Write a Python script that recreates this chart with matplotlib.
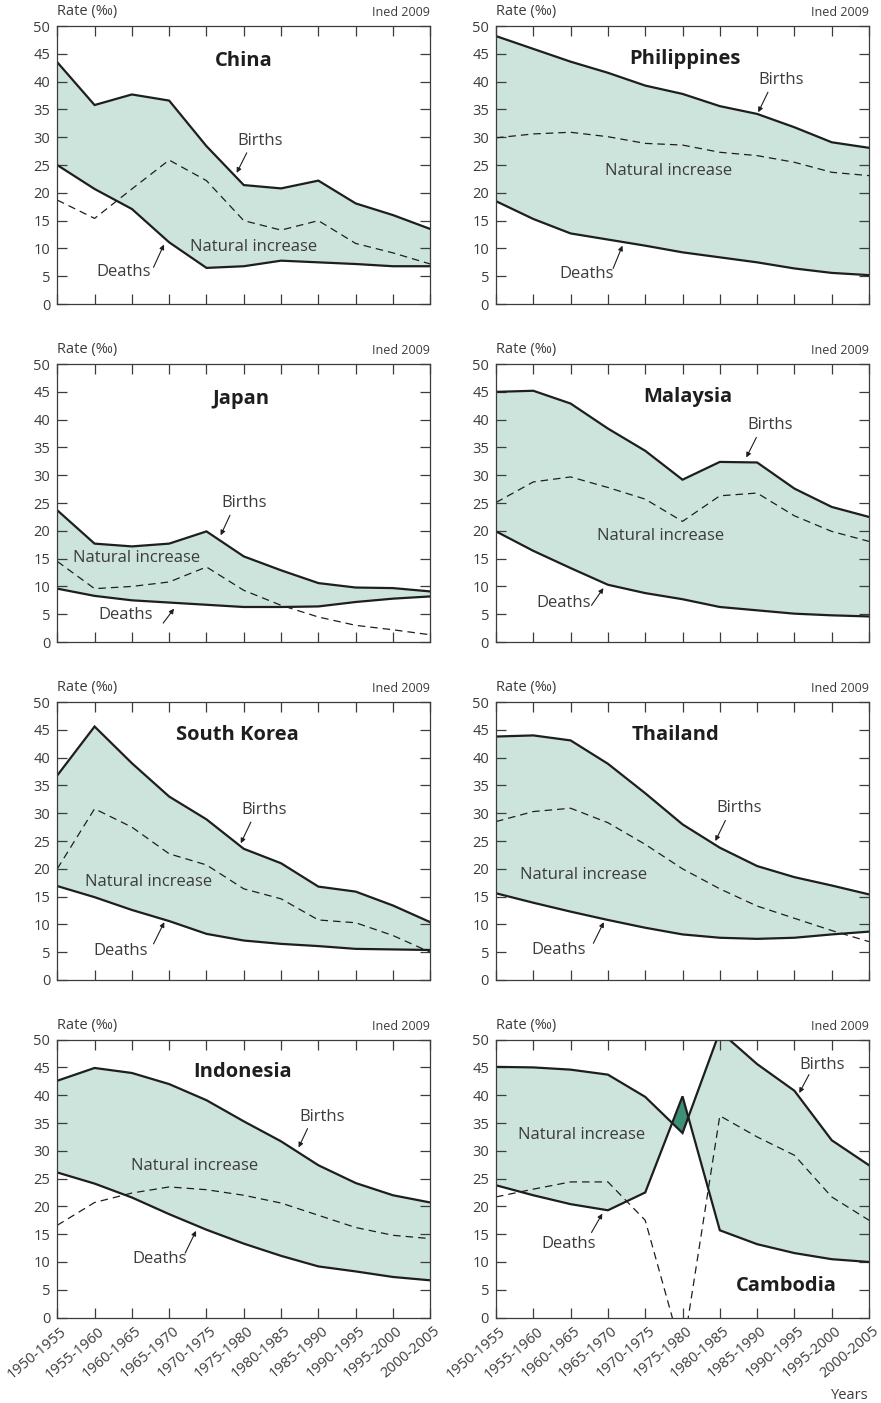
import matplotlib.pyplot as plt
import matplotlib.transforms as mtransforms
import numpy as np

plt.rcParams['font.family'] = ['Open Sans', 'DejaVu Sans']

periods = ['1950-1955', '1955-1960', '1960-1965', '1965-1970', '1970-1975',
           '1975-1980', '1980-1985', '1985-1990', '1990-1995', '1995-2000',
           '2000-2005']

# crude rates per 1000 inhabitants
china_births = [43.5, 35.8, 37.7, 36.6, 28.4, 21.4, 20.8, 22.2, 18.1, 16.0, 13.5]
china_deaths = [25.0, 20.7, 17.1, 11.1, 6.5, 6.8, 7.8, 7.5, 7.2, 6.8, 6.8]
china_natural = [18.7, 15.4, 20.7, 25.9, 22.2, 15.0, 13.3, 15.0, 10.9, 9.2, 7.2]

philippines_births = [48.2, 45.9, 43.6, 41.6, 39.3, 37.8, 35.6, 34.2, 31.8, 29.1, 28.1]
philippines_deaths = [18.5, 15.3, 12.7, 11.6, 10.5, 9.3, 8.4, 7.5, 6.4, 5.6, 5.2]
philippines_natural = [29.9, 30.6, 30.9, 30.1, 28.9, 28.6, 27.3, 26.7, 25.5, 23.7, 23.1]

japan_births = [23.7, 17.7, 17.2, 17.7, 19.9, 15.4, 12.9, 10.6, 9.8, 9.7, 9.1]
japan_deaths = [9.6, 8.3, 7.5, 7.1, 6.7, 6.3, 6.3, 6.4, 7.2, 7.8, 8.2]
japan_natural = [14.5, 9.6, 10.0, 10.8, 13.5, 9.3, 6.6, 4.5, 3.0, 2.2, 1.3]

malaysia_births = [45.0, 45.2, 42.9, 38.4, 34.4, 29.2, 32.4, 32.3, 27.6, 24.3, 22.5]
malaysia_deaths = [19.9, 16.4, 13.3, 10.3, 8.8, 7.7, 6.3, 5.7, 5.1, 4.8, 4.6]
malaysia_natural = [25.1, 28.8, 29.7, 27.8, 25.7, 21.7, 26.3, 26.8, 22.7, 19.9, 18.1]

korea_births = [36.8, 45.6, 39.0, 33.0, 28.9, 23.6, 21.0, 16.8, 15.9, 13.4, 10.4]
korea_deaths = [16.9, 14.9, 12.6, 10.6, 8.3, 7.1, 6.5, 6.1, 5.6, 5.5, 5.4]
korea_natural = [20.0, 30.8, 27.5, 22.7, 20.7, 16.4, 14.6, 10.8, 10.3, 8.0, 5.0]

thailand_births = [43.8, 44.0, 43.1, 38.9, 33.6, 28.0, 23.8, 20.5, 18.5, 17.0, 15.4]
thailand_deaths = [15.6, 13.9, 12.3, 10.8, 9.4, 8.2, 7.6, 7.4, 7.6, 8.2, 8.7]
thailand_natural = [28.5, 30.3, 30.9, 28.3, 24.4, 20.0, 16.4, 13.3, 11.1, 8.9, 6.9]

indonesia_births = [42.6, 44.9, 44.0, 42.0, 39.1, 35.3, 31.7, 27.4, 24.2, 22.0, 20.7]
indonesia_deaths = [26.1, 24.1, 21.6, 18.6, 15.8, 13.3, 11.1, 9.2, 8.3, 7.3, 6.7]
indonesia_natural = [16.6, 20.7, 22.4, 23.5, 23.0, 22.0, 20.6, 18.4, 16.2, 14.8, 14.2]

cambodia_births = [45.1, 45.0, 44.6, 43.7, 39.7, 33.2, 51.5, 45.6, 40.8, 31.9, 27.4]
cambodia_deaths = [23.8, 22.0, 20.4, 19.3, 22.5, 39.8, 15.7, 13.2, 11.6, 10.5, 10.0]
cambodia_natural = [21.7, 23.1, 24.4, 24.4, 17.5, -6.6, 36.3, 32.5, 29.2, 21.7, 17.5]

FILL = '#cde4dd'
DEFICIT = '#3d8f77'
INK = '#1e1e1e'
GREY = '#3c3c3c'

# label placement per panel: title, births (text, arrow tail, arrow head),
# deaths (text, arrow tail, arrow head), natural increase text
panels = [
    dict(name='China', data=(china_births, china_deaths, china_natural),
         title=(5.0, 43.8),
         births=((5.44, 29.3), (5.08, 27.2), (4.81, 23.6)),
         deaths=((1.79, 5.7), (2.58, 6.6), (2.86, 10.7)),
         natural=(5.26, 10.2)),
    dict(name='Philippines', data=(philippines_births, philippines_deaths, philippines_natural),
         title=(5.06, 44.0),
         births=((7.65, 40.3), (7.29, 38.1), (7.03, 34.5)),
         deaths=((2.43, 5.4), (3.14, 6.4), (3.39, 10.5)),
         natural=(4.63, 24.0)),
    dict(name='Japan', data=(japan_births, japan_deaths, japan_natural),
         title=(4.92, 43.8),
         births=((5.02, 25.0), (4.63, 22.8), (4.38, 19.2)),
         deaths=((1.82, 4.9), (2.84, 3.4), (3.13, 6.0)),
         natural=(2.13, 15.1)),
    dict(name='Malaysia', data=(malaysia_births, malaysia_deaths, malaysia_natural),
         title=(5.15, 44.0),
         births=((7.34, 39.0), (6.98, 36.8), (6.71, 33.2)),
         deaths=((1.80, 7.0), (2.56, 6.6), (2.88, 9.7)),
         natural=(4.41, 19.0)),
    dict(name='South Korea', data=(korea_births, korea_deaths, korea_natural),
         title=(4.83, 44.1),
         births=((5.55, 30.6), (5.19, 28.4), (4.92, 24.6)),
         deaths=((1.70, 5.3), (2.58, 6.5), (2.87, 10.4)),
         natural=(2.46, 17.6)),
    dict(name='Thailand', data=(thailand_births, thailand_deaths, thailand_natural),
         title=(4.81, 44.1),
         births=((6.51, 30.9), (6.15, 28.7), (5.88, 25.0)),
         deaths=((1.69, 5.4), (2.61, 6.6), (2.89, 10.4)),
         natural=(2.36, 18.9)),
    dict(name='Indonesia', data=(indonesia_births, indonesia_deaths, indonesia_natural),
         title=(4.96, 44.1),
         births=((7.09, 36.1), (6.71, 34.0), (6.47, 30.6)),
         deaths=((2.74, 10.6), (3.43, 11.6), (3.72, 15.6)),
         natural=(3.68, 27.3)),
    dict(name='Cambodia', data=(cambodia_births, cambodia_deaths, cambodia_natural),
         title=(7.79, 5.6),
         births=((8.75, 45.5), (8.39, 43.7), (8.13, 40.4)),
         deaths=((1.94, 13.2), (2.56, 15.3), (2.85, 18.7)),
         natural=(2.29, 32.8)),
]


def draw_panel(fig, ax, panel, bottom_row):
    births, deaths, natural = (np.array(s) for s in panel['data'])
    x = np.arange(len(periods))

    ax.fill_between(x, deaths, births, where=births >= deaths, interpolate=True,
                    color=FILL, lw=0)
    ax.fill_between(x, deaths, births, where=births < deaths, interpolate=True,
                    color=DEFICIT, lw=0)
    ax.plot(x, births, color=INK, lw=1.6, solid_joinstyle='miter')
    ax.plot(x, deaths, color=INK, lw=1.6, solid_joinstyle='miter')
    ax.plot(x, natural, color=INK, lw=0.9, dashes=(6, 4))

    ax.set_xlim(0, len(periods) - 1)
    ax.set_ylim(0, 50)
    ax.set_yticks(np.arange(0, 51, 5))
    ax.set_xticks(x)

    for side in ax.spines.values():
        side.set_color(GREY)
        side.set_linewidth(0.9)
    ax.tick_params(direction='in', length=7, width=0.9, color=GREY,
                   top=True, right=True, labelcolor=GREY, labelsize=10.5)
    ax.tick_params(axis='y', pad=5)

    if bottom_row:
        ax.set_xticklabels(periods, rotation=40, ha='right', va='top',
                           rotation_mode='anchor', fontsize=10.5)
        ax.tick_params(axis='x', pad=4.5)
        shift = mtransforms.ScaledTranslation(3 / 100, 0, fig.dpi_scale_trans)
        for lab in ax.get_xticklabels():
            lab.set_transform(lab.get_transform() + shift)
    else:
        ax.set_xticklabels([])

    ax.text(0, 1.025, 'Rate (‰)', transform=ax.transAxes, ha='left', va='bottom',
            fontsize=10.5, color=GREY)
    ax.text(1, 1.025, 'Ined 2009', transform=ax.transAxes, ha='right', va='bottom',
            fontsize=9, color=GREY)

    ax.text(*panel['title'], panel['name'], ha='center', va='center',
            fontsize=14.5, fontweight='bold', color=INK)
    ax.text(*panel['natural'], 'Natural increase', ha='center', va='center',
            fontsize=12, color=GREY)
    for key, label in (('births', 'Births'), ('deaths', 'Deaths')):
        txt, tail, head = panel[key]
        ax.text(*txt, label, ha='center', va='center', fontsize=12, color=GREY)
        ax.annotate('', xy=head, xytext=tail,
                    arrowprops=dict(arrowstyle='-|>', lw=0.8, color=INK,
                                    mutation_scale=7, shrinkA=0, shrinkB=0))


fig = plt.figure(figsize=(8.81, 14.03), dpi=100)
lefts = [0.065, 0.563]
bottoms = [0.7833, 0.5424, 0.3015, 0.0609]
for i, panel in enumerate(panels):
    row, col = divmod(i, 2)
    ax = fig.add_axes([lefts[col], bottoms[row], 0.4234, 0.1981])
    draw_panel(fig, ax, panel, row == len(bottoms) - 1)

fig.text(0.9864, 0.0057, 'Years', ha='right', va='center', fontsize=10.5, color=GREY)

fig.savefig('out.png', dpi=100)
